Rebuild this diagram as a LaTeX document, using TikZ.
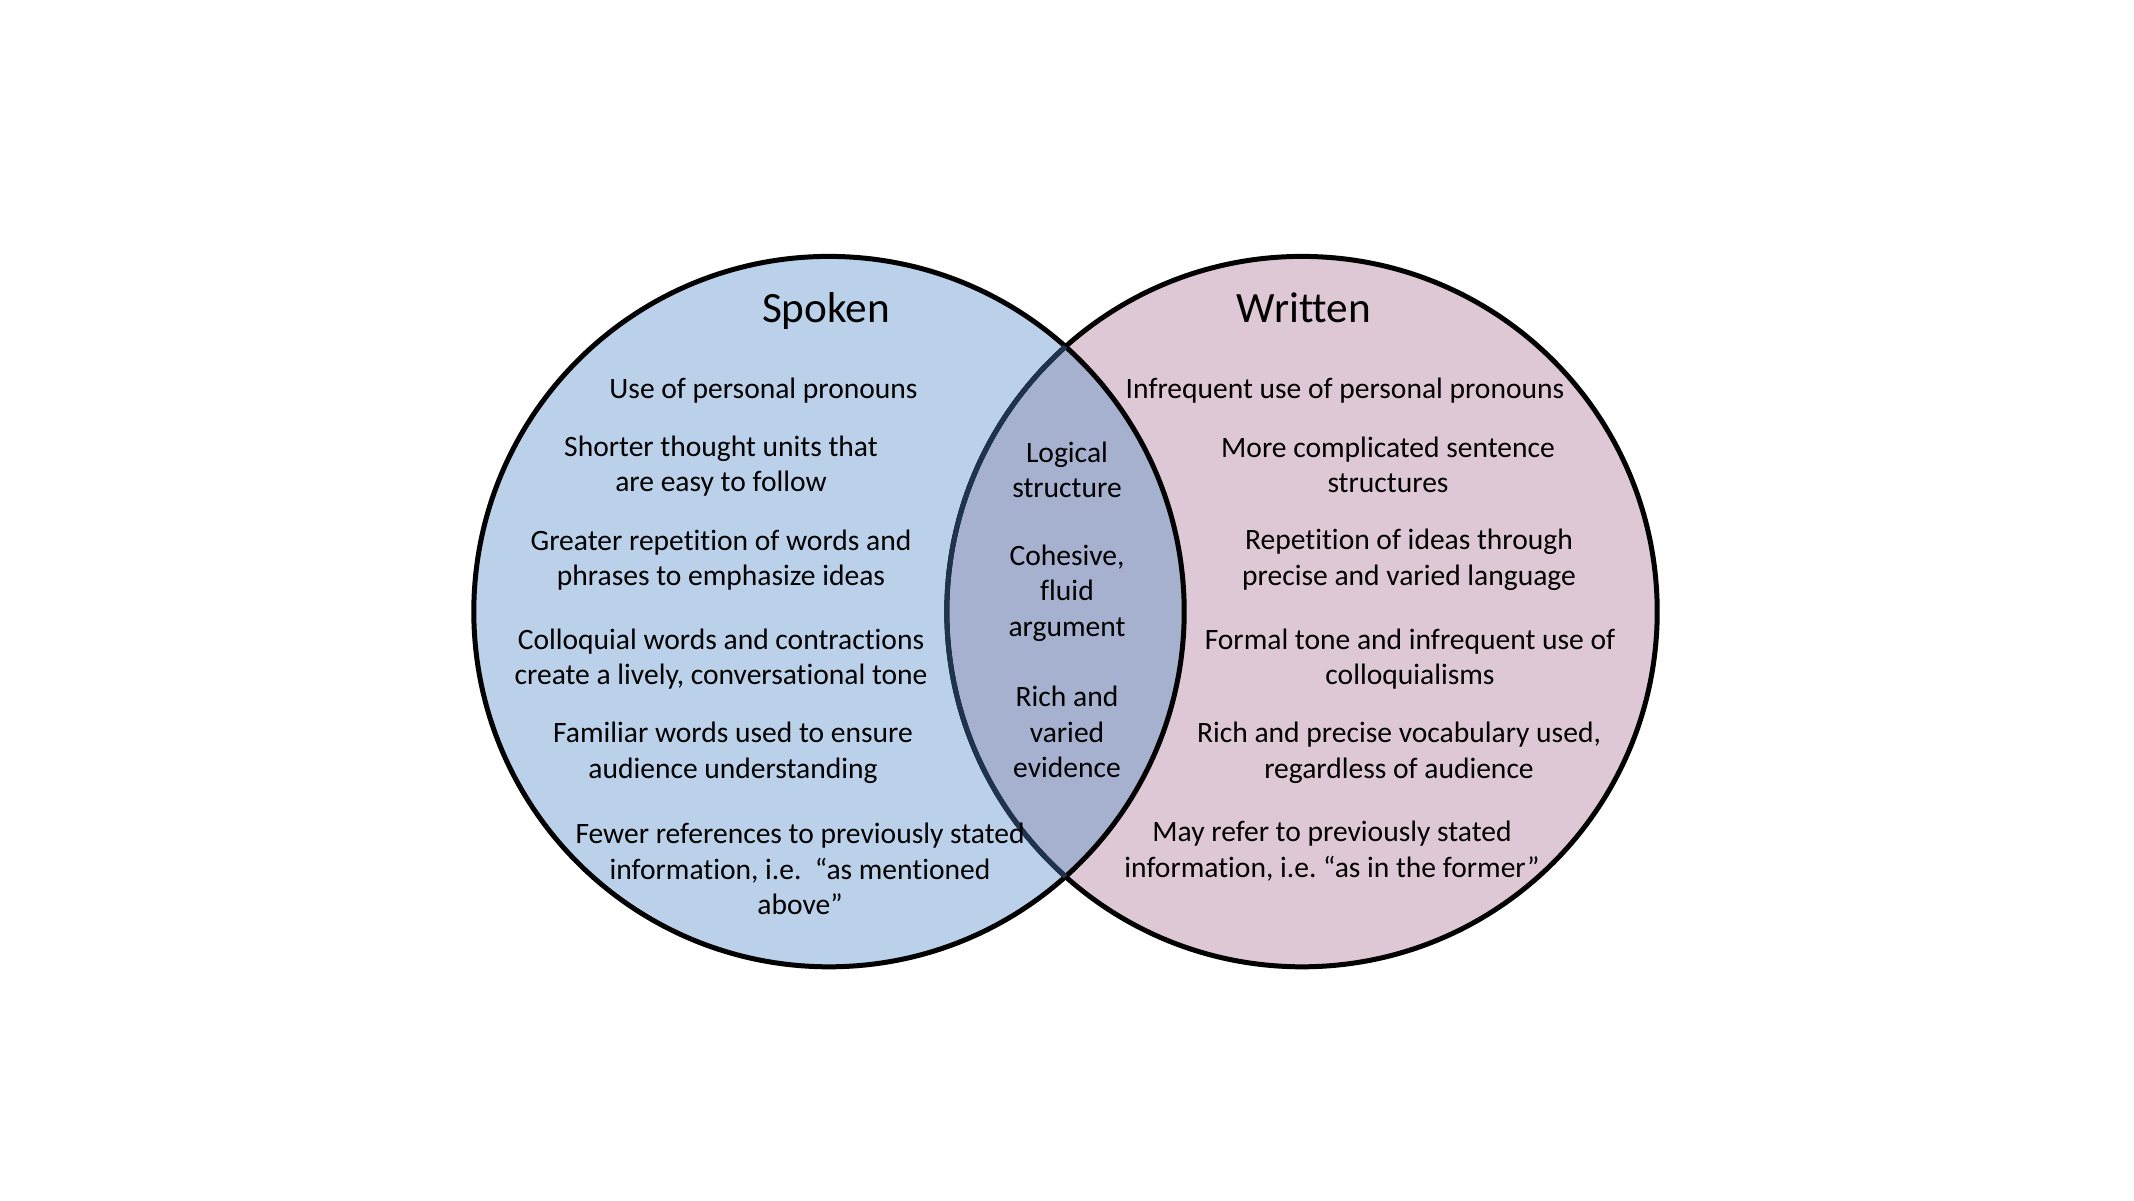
\documentclass[tikz,border=0pt]{standalone}
\usepackage{fontspec}
\setmainfont{Carlito}[Ligatures=NoCommon]
\definecolor{spokenfill}{RGB}{186,209,233}
\definecolor{writtenfill}{RGB}{223,200,214}
\definecolor{bothfill}{RGB}{166,177,207}
\definecolor{navyline}{RGB}{30,52,78}
\tikzset{
  body/.style={align=center, inner sep=0pt, font=\fontsize{8.4}{10.1}\selectfont, text=black},
  title/.style={inner sep=0pt, anchor=base, font=\fontsize{12.3}{14}\selectfont, text=black},
  ring/.style={line width=1.42pt}
}
\begin{document}
\begin{tikzpicture}[x=0.01cm, y=-0.01cm]
\path[use as bounding box, fill=white] (0,0) rectangle (2134,1200);
% circle centres
\coordinate (cl) at (829,611.6);
\coordinate (cr) at (1302,611.6);
% fills
\fill[spokenfill] (cl) circle[radius=3.55cm];
\fill[writtenfill] (cr) circle[radius=3.55cm];
\begin{scope}
  \clip (cl) circle[radius=3.55cm];
  \fill[bothfill] (cr) circle[radius=3.55cm];
\end{scope}
% outlines
\draw[ring, black] (cl) circle[radius=3.55cm];
\draw[ring, black] (cr) circle[radius=3.55cm];
\begin{scope}
  \clip (cl) circle[radius=3.55cm];
  \draw[ring, navyline] (cr) circle[radius=3.55cm];
\end{scope}
% titles
\node[title] (tspoken) at (826,322) {Spoken};
\node[title] (twritten) at (1304,322) {Written};
% spoken items
\node[body] (s1) at (763.5,391) {Use of personal pronouns};
\node[body] (s2) at (721,466) {Shorter thought units that\\are easy to follow};
\node[body] (s3) at (721,560) {Greater repetition of words and\\phrases to emphasize ideas};
\node[body] (s4) at (721,659) {Colloquial words and contractions\\create a lively, conversational tone};
\node[body] (s5) at (733,753) {Familiar words used to ensure\\audience understanding};
\node[body] (s6) at (800,869) {Fewer references to previously stated\\information, i.e.\ \ “as mentioned\\above”};
% shared items
\node[body] (b1) at (1067,470) {Logical\\structure};
\node[body] (b2) at (1067,593) {Cohesive,\\fluid\\argument};
\node[body] (b3) at (1067,732) {Rich and\\varied\\evidence};
% written items
\node[body] (w1) at (1345,391) {Infrequent use of personal pronouns};
\node[body] (w2) at (1388,465) {More complicated sentence\\structures};
\node[body] (w3) at (1409,560) {Repetition of ideas through\\precise and varied language};
\node[body] (w4) at (1410,659) {Formal tone and infrequent use of\\colloquialisms};
\node[body] (w5) at (1399,753) {Rich and precise vocabulary used,\\regardless of audience};
\node[body] (w6) at (1332,851) {May refer to previously stated\\information, i.e.\ “as in the former”};
\end{tikzpicture}
\end{document}
